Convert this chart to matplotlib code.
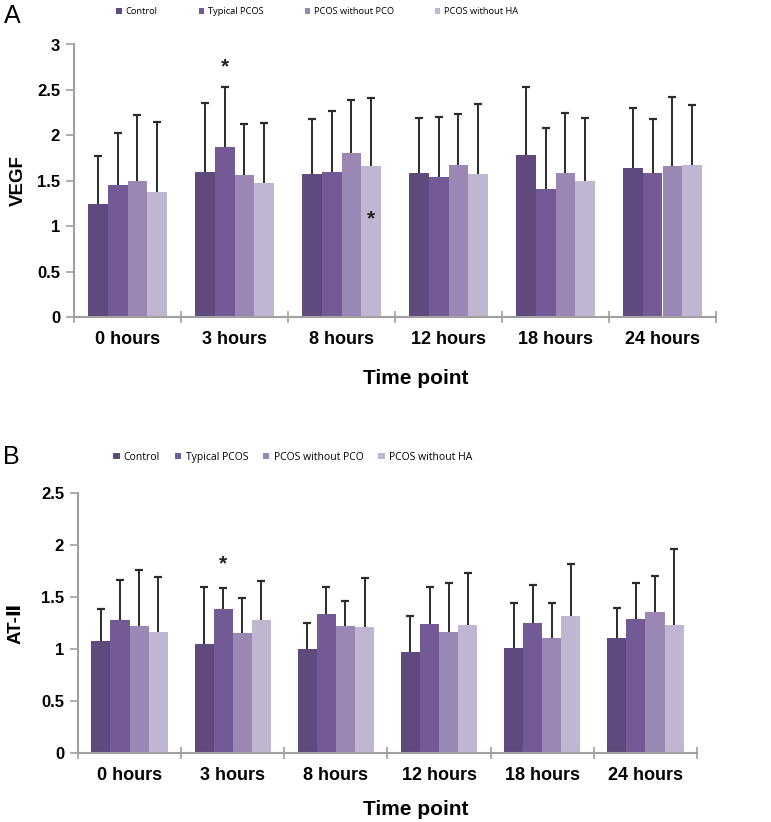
import matplotlib
matplotlib.use('Agg')
import matplotlib.pyplot as plt
import numpy as np
from matplotlib.patches import Patch

# data
time_points = ['0 hours', '3 hours', '8 hours', '12 hours', '18 hours', '24 hours']
groups = ['Control', 'Typical PCOS', 'PCOS without PCO', 'PCOS without HA']
colors = ['#604a7d', '#735a96', '#9a87b4', '#c0b6d2']

# VEGF means and upper error bar ends
vegf_control = [1.24, 1.60, 1.57, 1.58, 1.78, 1.64]
vegf_typical = [1.45, 1.87, 1.60, 1.54, 1.41, 1.59]
vegf_no_pco = [1.50, 1.56, 1.81, 1.67, 1.59, 1.66]
vegf_no_ha = [1.38, 1.48, 1.66, 1.57, 1.50, 1.67]
vegf_control_top = [1.77, 2.36, 2.18, 2.19, 2.53, 2.30]
vegf_typical_top = [2.03, 2.53, 2.27, 2.20, 2.08, 2.18]
vegf_no_pco_top = [2.22, 2.12, 2.39, 2.23, 2.25, 2.42]
vegf_no_ha_top = [2.15, 2.14, 2.41, 2.35, 2.19, 2.33]

# AT-II means and upper error bar ends
at2_control = [1.08, 1.05, 1.00, 0.97, 1.01, 1.11]
at2_typical = [1.28, 1.38, 1.34, 1.24, 1.25, 1.29]
at2_no_pco = [1.22, 1.15, 1.22, 1.16, 1.11, 1.36]
at2_no_ha = [1.16, 1.28, 1.21, 1.23, 1.32, 1.23]
at2_control_top = [1.38, 1.60, 1.25, 1.32, 1.44, 1.39]
at2_typical_top = [1.66, 1.59, 1.60, 1.60, 1.62, 1.63]
at2_no_pco_top = [1.76, 1.49, 1.46, 1.63, 1.44, 1.70]
at2_no_ha_top = [1.69, 1.65, 1.68, 1.73, 1.82, 1.96]

# significance stars: (time index, group index, y)
vegf_stars = [(1, 1, 2.75), (2, 3, 1.08)]
at2_stars = [(1, 1, 1.82)]

W, H = 771, 822
fig = plt.figure(figsize=(W / 100, H / 100), dpi=100)

narrow = ['Liberation Sans Narrow', 'Liberation Sans', 'DejaVu Sans']
sans = ['Liberation Sans', 'DejaVu Sans']


def draw_panel(ax, means, tops, stars, ymax):
    x = np.arange(len(time_points))
    bw = 0.185
    for k, (m, t) in enumerate(zip(means, tops)):
        xs = x + (k - 1.5) * bw
        m = np.array(m)
        t = np.array(t)
        ax.bar(xs, m, width=bw, color=colors[k], edgecolor='none', zorder=2)
        eb = ax.errorbar(xs, m, yerr=[np.zeros_like(m), t - m], fmt='none',
                         ecolor='#2b2b2b', elinewidth=1.4, capsize=2.6,
                         capthick=1.6, zorder=3)
        # only the upper whisker has a cap
        eb[1][0].set_visible(False)
    for ti, gi, yv in stars:
        ax.text(x[ti] + (gi - 1.5) * bw, yv, '*', ha='center', va='center',
                fontsize=15, fontweight='bold', color='#222222', family=sans)

    ax.set_xlim(-0.5, len(time_points) - 0.5)
    ax.set_ylim(0, ymax)
    yt = np.arange(0, ymax + 0.01, 0.5)
    ax.set_yticks(yt)
    ax.set_yticklabels([f'{v:g}' for v in yt],
                       fontsize=12, fontweight='bold', family=sans)
    ax.set_xticks(x)
    ax.set_xticklabels(time_points, fontsize=13, family=narrow,
                       fontweight='bold')
    ax.set_xticks(np.arange(-0.5, len(time_points)), minor=True)
    ax.tick_params(axis='x', which='major', length=0, pad=10)
    ax.tick_params(axis='x', which='minor', direction='inout', length=9,
                   width=1.2, color='#a0a0a0')
    ax.tick_params(axis='y', direction='out', length=6, width=1.2,
                   color='#a0a0a0', pad=4)
    for s in ['top', 'right']:
        ax.spines[s].set_visible(False)
    for s in ['left', 'bottom']:
        ax.spines[s].set_color('#a0a0a0')
        ax.spines[s].set_linewidth(1.5)


axA = fig.add_axes([74 / W, 1 - 317 / H, (716 - 74) / W, (317 - 44.5) / H])
draw_panel(axA,
           [vegf_control, vegf_typical, vegf_no_pco, vegf_no_ha],
           [vegf_control_top, vegf_typical_top, vegf_no_pco_top, vegf_no_ha_top],
           vegf_stars, 3)

axB = fig.add_axes([78 / W, 1 - 753 / H, (697 - 78) / W, (753 - 493) / H])
draw_panel(axB,
           [at2_control, at2_typical, at2_no_pco, at2_no_ha],
           [at2_control_top, at2_typical_top, at2_no_pco_top, at2_no_ha_top],
           at2_stars, 2.5)

# y axis titles
fig.text(18 / W, 1 - 181 / H, 'VEGF', rotation=90, ha='center', va='center',
         fontsize=13.5, fontweight='bold', family=sans)
fig.text(16 / W, 1 - 623 / H, 'AT-Ⅱ', rotation=90, ha='center', va='center',
         fontsize=13.5, fontweight='bold', family=sans)

handles = [Patch(facecolor=c, edgecolor='none', label=g)
           for c, g in zip(colors, groups)]
fig.legend(handles=handles, ncol=4, loc='center left',
           bbox_to_anchor=(108 / W, 1 - 12 / H), frameon=False,
           handlelength=0.6, handleheight=0.6,
           handletextpad=0.4, columnspacing=4.4,
           prop={'family': 'Open Sans', 'size': 6.7})
fig.legend(handles=handles, ncol=4, loc='center left',
           bbox_to_anchor=(104 / W, 1 - 457 / H), frameon=False,
           handlelength=0.6, handleheight=0.6,
           handletextpad=0.4, columnspacing=1.45,
           prop={'family': 'Open Sans', 'size': 7.5})

fig.text(4 / W, 1 - 16 / H, 'A', fontsize=18, va='center', ha='left',
         family=sans)
fig.text(3 / W, 1 - 457 / H, 'B', fontsize=18, va='center', ha='left',
         family=sans)
fig.text(416 / W, 1 - 378 / H, 'Time point', fontsize=15, ha='center',
         va='center', family=narrow, fontweight='bold')
fig.text(416 / W, 1 - 809 / H, 'Time point', fontsize=15, ha='center',
         va='center', family=narrow, fontweight='bold')

fig.savefig('out.png', dpi=100)
